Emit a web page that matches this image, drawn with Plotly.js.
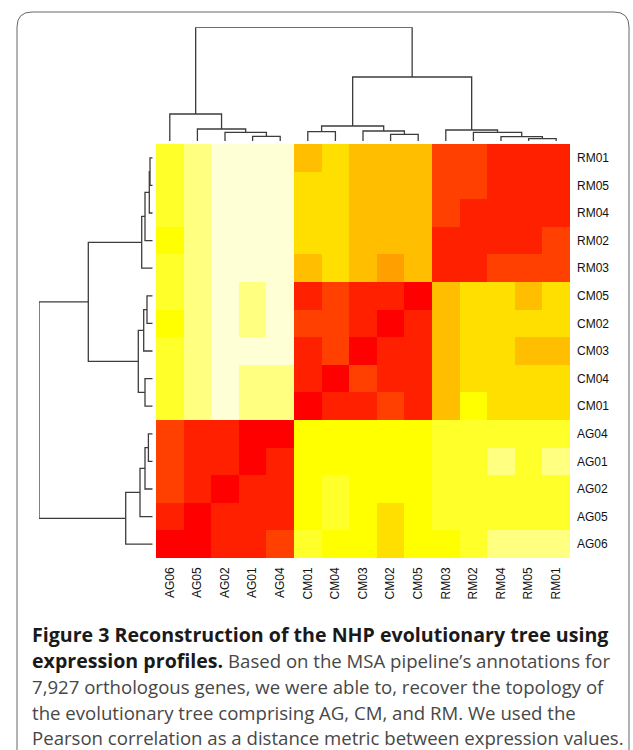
<!DOCTYPE html>
<html><head><meta charset="utf-8">
<script src="https://cdn.plot.ly/plotly-3.0.1.min.js"></script>
<style>html,body{margin:0;padding:0;background:#fff;} #chart{width:633px;height:750px;}</style>
</head><body><div id="chart"></div>
<script>
// ---- data ----
const colLabels = ["AG06","AG05","AG02","AG01","AG04","CM01","CM04","CM03","CM02","CM05","RM03","RM02","RM04","RM05","RM01"];
const rowLabels = ["RM01","RM05","RM04","RM02","RM03","CM05","CM02","CM03","CM04","CM01","AG04","AG01","AG02","AG05","AG06"];
// colour level of each cell (0 = highest correlation / red ... 11 = lowest / pale), rows top to bottom
const cellLevels = [
  [9,10,11,11,11, 6,7,6,6,6, 2,2,1,1,1],
  [9,10,11,11,11, 7,7,6,6,6, 2,2,1,1,1],
  [9,10,11,11,11, 7,7,6,6,6, 2,1,1,1,1],
  [8,10,11,11,11, 7,7,6,6,6, 1,1,1,1,2],
  [9,10,11,11,11, 6,7,6,5,6, 1,1,2,2,2],
  [9,10,11,10,11, 1,2,1,1,0, 6,7,7,6,7],
  [8,10,11,10,11, 2,2,1,0,1, 6,7,7,7,7],
  [9,10,11,11,11, 1,2,0,1,1, 6,7,7,6,6],
  [9,10,11,10,10, 1,0,2,1,1, 6,7,7,7,7],
  [9,10,11,10,10, 0,1,1,2,1, 6,8,7,7,7],
  [2,1,1,0,0, 8,8,8,8,8, 9,9,9,9,9],
  [2,1,1,0,1, 8,8,8,8,8, 9,9,10,9,10],
  [2,1,0,1,1, 8,9,8,8,8, 9,9,9,9,9],
  [1,0,1,1,1, 8,9,8,7,8, 9,9,9,9,9],
  [0,0,1,1,2, 9,8,8,7,8, 8,9,10,10,10]
];
const heatColors = ["#FF0000","#FF2000","#FF4000","#FF6000","#FF8000","#FF9F00","#FFBF00","#FFDF00","#FFFF00","#FFFF2A","#FFFF80","#FFFFD5"];
// dendrogram merges: [left, right, height]; strings = leaves, numbers = earlier merge step (1-based)
const colMerges = [
  ["RM05","RM01",2.3],["AG01","AG04",4.7],["RM04",1,4.3],["CM02","CM05",6.7],
  ["AG02",2,8.7],["RM02",3,8.7],["CM01","CM04",9.3],["CM03",4,10],
  ["RM03",6,11],["AG05",5,12],[7,8,15],["AG06",10,27],[11,9,64],[12,13,113.7]
];
const rowMerges = [
  ["RM01","RM05",2.7],["RM04",1,3.4],["AG04","AG01",4.3],["CM05","CM02",5.7],
  ["RM02",2,7.7],["AG02",3,7.7],["CM04","CM01",7.7],["CM03",4,9],
  ["RM03",5,11],["AG05",6,12.7],[8,7,14.4],["AG06",10,27],[9,11,64.4],[13,12,113.7]
];
const captionLines = [
  "<b>Figure 3 Reconstruction of the NHP evolutionary tree using</b>",
  "<b>expression profiles.</b> Based on the MSA pipeline’s annotations for",
  "7,927 orthologous genes, we were able to, recover the topology of",
  "the evolutionary tree comprising AG, CM, and RM. We used the",
  "Pearson correlation as a distance metric between expression values."
];

// ---- geometry (pixels) ----
const W = 633, H = 750;
const px = x => x / W, py = y => 1 - y / H;
const heatL = 156, heatR = 570, heatT = 144, heatB = 558;
const topDendB = 141, topDendT = 27.3;
const leftDendL = 39, leftDendR = 152.7;

function dendro(order, merges) {
  const pos = {}; order.forEach((l, i) => pos[l] = i);
  const P = [], Hh = [], p = [], h = [];
  const get = c => typeof c === "number" ? [P[c - 1], Hh[c - 1]] : [pos[c], 0];
  merges.forEach(m => {
    const [pa, ha] = get(m[0]), [pb, hb] = get(m[1]);
    p.push(pa, pa, pb, pb, null); h.push(ha, m[2], m[2], hb, null);
    P.push((pa + pb) / 2); Hh.push(m[2]);
  });
  return { p, h, max: Math.max(...Hh) };
}
const cd = dendro(colLabels, colMerges);
const rd = dendro(rowLabels, rowMerges);

const n = heatColors.length;
const colorscale = [];
heatColors.forEach((c, k) => { colorscale.push([k / n, c]); colorscale.push([(k + 1) / n, c]); });

const lineStyle = { color: "#3c3c3c", width: 1.3 };
const traces = [
  { type: "heatmap", x: colLabels, y: rowLabels, z: cellLevels, colorscale, zmin: -0.5, zmax: n - 0.5,
    showscale: false, xaxis: "x", yaxis: "y", hoverinfo: "skip" },
  { type: "scatter", mode: "lines", x: cd.p, y: cd.h, line: lineStyle, xaxis: "x2", yaxis: "y2", hoverinfo: "skip" },
  { type: "scatter", mode: "lines", x: rd.h, y: rd.p, line: lineStyle, xaxis: "x3", yaxis: "y3", hoverinfo: "skip" }
];

const tickFont = { family: "Liberation Sans, Arial, sans-serif", size: 12, color: "#111" };
const hidden = { showgrid: false, zeroline: false, showline: false, showticklabels: false, ticks: "" };
const frame = `M ${px(17)},${py(750)} L ${px(17)},${py(27)} Q ${px(17)},${py(12)} ${px(32)},${py(12)} L ${px(614)},${py(12)} Q ${px(629)},${py(12)} ${px(629)},${py(27)} L ${px(629)},${py(750)}`;

const captionY = [634, 660, 686, 712, 737];
const styled = t => t.replace(/<b>/g, '<span style="font-size:19.6px;color:#1a1a1a"><b>').replace(/<\/b>/g, '</b></span>');
const annotations = captionLines.map((t, i) => ({
  xref: "paper", yref: "paper", x: px(30), y: py(captionY[i]), xanchor: "left", yanchor: "middle",
  text: styled(t), showarrow: false, align: "left",
  font: { family: "Open Sans, sans-serif", size: 18.6, color: "#474747" }
}));

const layout = {
  width: W, height: H, margin: { l: 0, r: 0, t: 0, b: 0 },
  paper_bgcolor: "#fff", plot_bgcolor: "#fff", showlegend: false,
  xaxis: { domain: [px(heatL), px(heatR)], type: "category", showgrid: false, zeroline: false, showline: false,
    ticks: "", tickangle: -90, tickfont: tickFont, ticklabelstandoff: 6, anchor: "y" },
  yaxis: { domain: [py(heatB), py(heatT)], type: "category", autorange: "reversed", side: "right",
    showgrid: false, zeroline: false, showline: false, ticks: "", tickfont: tickFont, ticklabelstandoff: 6, anchor: "x" },
  xaxis2: Object.assign({ domain: [px(heatL), px(heatR)], range: [-0.5, colLabels.length - 0.5], anchor: "y2" }, hidden),
  yaxis2: Object.assign({ domain: [py(topDendB), py(topDendT)], range: [0, cd.max], anchor: "x2" }, hidden),
  xaxis3: Object.assign({ domain: [px(leftDendL), px(leftDendR)], range: [rd.max, 0], anchor: "y3" }, hidden),
  yaxis3: Object.assign({ domain: [py(heatB), py(heatT)], range: [rowLabels.length - 0.5, -0.5], anchor: "x3" }, hidden),
  shapes: [{ type: "path", xref: "paper", yref: "paper", path: frame, line: { color: "#666", width: 1 } }],
  annotations
};
Plotly.newPlot("chart", traces, layout, { staticPlot: true, displayModeBar: false });
</script></body></html>
